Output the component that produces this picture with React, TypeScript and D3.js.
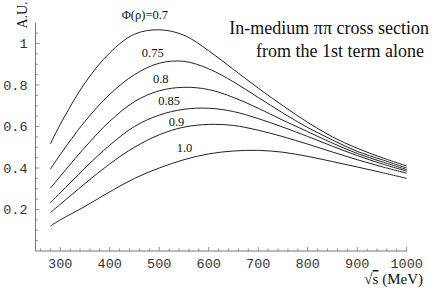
import React from "react";
import * as d3 from "d3";

const energies = [280, 300, 350, 400, 450, 500, 550, 600, 650, 700, 750, 800, 850, 900, 950, 1000];
const phi070 = [0.516, 0.61, 0.81, 0.955, 1.045, 1.066, 1.04, 0.965, 0.875, 0.785, 0.7, 0.62, 0.55, 0.495, 0.45, 0.41];
const phi075 = [0.394, 0.465, 0.625, 0.755, 0.85, 0.905, 0.914, 0.878, 0.815, 0.74, 0.665, 0.595, 0.535, 0.48, 0.44, 0.4];
const phi080 = [0.302, 0.36, 0.5, 0.625, 0.72, 0.772, 0.789, 0.778, 0.74, 0.688, 0.63, 0.575, 0.52, 0.47, 0.43, 0.392];
const phi085 = [0.233, 0.28, 0.4, 0.51, 0.6, 0.655, 0.683, 0.688, 0.672, 0.638, 0.597, 0.552, 0.505, 0.46, 0.42, 0.385];
const phi090 = [0.185, 0.225, 0.325, 0.42, 0.5, 0.56, 0.597, 0.61, 0.605, 0.582, 0.551, 0.515, 0.477, 0.44, 0.406, 0.375];
const phi100 = [0.12, 0.15, 0.215, 0.285, 0.35, 0.4, 0.44, 0.468, 0.482, 0.485, 0.476, 0.456, 0.431, 0.405, 0.378, 0.35];

const series = [phi070, phi075, phi080, phi085, phi090, phi100];
const curveLabels = ["Φ(ρ)=0.7", "0.75", "0.8", "0.85", "0.9", "1.0"];
const labelAt = [
  { x: 471, y: 1.118 },
  { x: 487, y: 0.935 },
  { x: 503, y: 0.81 },
  { x: 520, y: 0.704 },
  { x: 535, y: 0.602 },
  { x: 551, y: 0.479 },
];
const xTicks = [300, 400, 500, 600, 700, 800, 900, 1000];
const yTicks = [0.2, 0.4, 0.6, 0.8, 1];

const SERIF = "'Liberation Serif', 'Times New Roman', Times, serif";
const MONO = "'Liberation Mono', 'Courier New', Courier, monospace";

export default function App() {
  const W = 437, H = 291;
  const x = d3.scaleLinear().domain([250, 1000]).range([35.5, 406.7]);
  const y = d3.scaleLinear().domain([0, 1.1]).range([251, 22.75]);
  const line = d3.line<number>().x((_, i) => x(energies[i])).y((d) => y(d)).curve(d3.curveCatmullRom.alpha(0.5));
  const xMinor = d3.range(260, 1000.1, 20);
  const yMinor = d3.range(0.05, 1.1, 0.05);
  const axisColor = "#777";
  return (
    <svg width={W} height={H} style={{ position: "absolute", left: 0, top: 0, background: "#fff" }}>
      <line x1={x(250)} x2={x(1000)} y1={y(0)} y2={y(0)} stroke={axisColor} strokeWidth={1} />
      <line x1={x(250)} x2={x(250)} y1={y(0)} y2={y(1.1)} stroke={axisColor} strokeWidth={1} />
      {xMinor.map((v) => {
        const major = Math.abs(v % 100) < 1e-6;
        return <line key={"xm" + v} x1={x(v)} x2={x(v)} y1={y(0)} y2={y(0) - (major ? 4 : 2.5)} stroke={axisColor} strokeWidth={0.8} />;
      })}
      {yMinor.map((v) => {
        const r = Math.round(v * 100) % 20;
        const major = r === 0;
        return <line key={"ym" + v} x1={x(250)} x2={x(250) + (major ? 4 : 2.5)} y1={y(v)} y2={y(v)} stroke={axisColor} strokeWidth={0.8} />;
      })}
      {xTicks.map((v) => (
        <text key={"xt" + v} x={x(v)} y={268} textAnchor="middle" fontFamily={MONO} fontSize={13.5} fill="#333">
          {String(v)}
        </text>
      ))}
      {yTicks.map((v) => (
        <text key={"yt" + v} x={27.5} y={y(v) + 4.5} textAnchor="end" fontFamily={MONO} fontSize={13.5} fill="#333">
          {String(v)}
        </text>
      ))}
      {series.map((s, i) => (
        <path key={"c" + i} d={line(s) || ""} fill="none" stroke="#222" strokeWidth={1} />
      ))}
      {curveLabels.map((t, i) => (
        <text key={"l" + i} x={x(labelAt[i].x)} y={y(labelAt[i].y)} textAnchor="middle" fontFamily={SERIF} fontSize={12.5} fill="#111">
          {t}
        </text>
      ))}
      <text x={429} y={34} textAnchor="end" fontFamily={SERIF} fontSize={18} fill="#111">
        In-medium ππ cross section
      </text>
      <text x={424} y={57} textAnchor="end" fontFamily={SERIF} fontSize={18} fill="#111">
        from the 1st term alone
      </text>
      <text transform="translate(27,15) rotate(-90)" textAnchor="middle" fontFamily={SERIF} fontSize={14} fill="#111">
        A.U.
      </text>
      <text x={423} y={284} textAnchor="end" fontFamily={SERIF} fontSize={15} fill="#111">
        √<tspan style={{ textDecoration: "overline" }}>s</tspan> (MeV)
      </text>
    </svg>
  );
}
